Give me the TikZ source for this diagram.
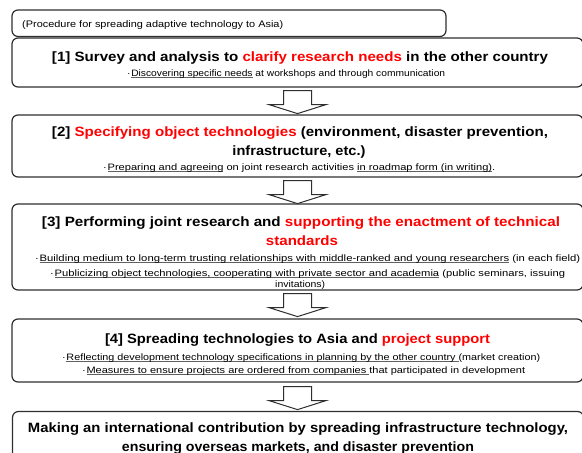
\documentclass[tikz,border=0pt]{standalone}
\usepackage{fontspec}
\setmainfont{Liberation Sans}
\usetikzlibrary{calc}
\definecolor{accent}{HTML}{FF0000}
\definecolor{frame}{HTML}{2E2E2E}
\definecolor{rulegray}{HTML}{606060}
\newcommand{\hl}[1]{\textcolor{accent}{#1}}
% thin grey underline sitting just below the baseline
\newcommand{\undl}[1]{\begingroup\setbox0\hbox{#1}\rlap{\textcolor{rulegray}{\rule[-1.4pt]{\wd0}{0.6pt}}}\box0\endgroup}
\newcommand{\bul}{·\hspace{0.6pt}}
% set a line to a given width, keeping its height
\newcommand{\spread}[2]{\resizebox{#1pt}{\height}{#2}}
\begin{document}
\begin{tikzpicture}[x=1pt,y=-1pt,
  stagebox/.style={draw=frame, line width=1.2pt, rounded corners=6pt, inner sep=0pt, minimum width=571pt},
  headline/.style={font=\bfseries\fontsize{13.5}{16}\selectfont, anchor=base, inner sep=0pt},
  noteline/.style={font=\fontsize{9.3}{11}\selectfont, anchor=base west, inner sep=0pt},
  flow/.style={draw=frame, line width=1pt, fill=white},
  downarrow/.pic={\path[flow] (-14,0) -- (14,0) -- (14,14) -- (28.5,14) -- (0,23) -- (-28.5,14) -- (-14,14) -- cycle;}
]
\useasboundingbox (0,0) rectangle (582,453);

% heading tab
\node[stagebox, minimum width=434pt, minimum height=26.5pt] (b0) at (229,23.25) {};
\node[noteline, font=\fontsize{9.5}{11}\selectfont] (t0) at (22,27) {\spread{261}{(Procedure for spreading adaptive technology to Asia)}};

% stage boxes
\node[stagebox, minimum height=49pt] (b1) at (297.5,62.5) {};
\node[stagebox, minimum height=62pt] (b2) at (297.5,146) {};
\node[stagebox, minimum height=86pt] (b3) at (297.5,247) {};
\node[stagebox, minimum height=63pt] (b4) at (297.5,350.5) {};
\node[stagebox, minimum height=60pt] (b5) at (298,441.5) {};

% arrows between stages
\pic at ($(b1.south)+(0,3)$) {downarrow};
\pic at ($(b2.south)+(0,3)$) {downarrow};
\pic at ($(b3.south)+(0,3)$) {downarrow};
\pic at ($(b4.south)+(0,4)$) {downarrow};

% [1]
\node[headline] (h1) at (300,61) {\spread{496}{[1] Survey and analysis to \hl{clarify research needs} in the other country}};
\node[noteline] (n1) at (127,76) {\spread{318}{\bul\undl{Discovering specific needs} at workshops and through communication}};

% [2]
\node[headline] (h2a) at (300,136) {\spread{496}{[2] \hl{Specifying object technologies} (environment, disaster prevention,}};
\node[headline] (h2b) at (299,155) {\spread{133}{infrastructure, etc.)}};
\node[noteline] (n2) at (103,170) {\spread{392}{\bul\undl{Preparing and agreeing} on joint research activities \undl{in roadmap form (in writing)}.}};

% [3]
\node[headline] (h3a) at (301,226) {\spread{518}{[3] Performing joint research and \hl{supporting the enactment of technical}}};
\node[headline] (h3b) at (302,245) {\spread{72}{\hl{standards}}};
\node[noteline] (n3a) at (35,261) {\spread{545}{\bul\undl{Building medium to long-term trusting relationships with middle-ranked and young researchers} (in each field)}};
\node[noteline] (n3b) at (50,276) {\spread{515}{\bul\undl{Publicizing object technologies, cooperating with private sector and academia} (public seminars, issuing}};
\node[noteline] (n3c) at (275,287) {\spread{50}{invitations)}};

% [4]
\node[headline] (h4) at (297.5,343) {\spread{385}{[4] Spreading technologies to Asia and \hl{project support}}};
\node[noteline] (n4a) at (62,360) {\spread{478}{\bul\undl{Reflecting development technology specifications in planning by the other country }(market creation)}};
\node[noteline] (n4b) at (82,373) {\spread{443}{\bul\undl{Measures to ensure projects are ordered from companies }that participated in development}};

% outcome
\node[headline] (h5a) at (298,432) {\spread{540}{Making an international contribution by spreading infrastructure technology,}};
\node[headline] (h5b) at (298,451) {\spread{352}{ensuring overseas markets, and disaster prevention}};
\end{tikzpicture}
\end{document}
